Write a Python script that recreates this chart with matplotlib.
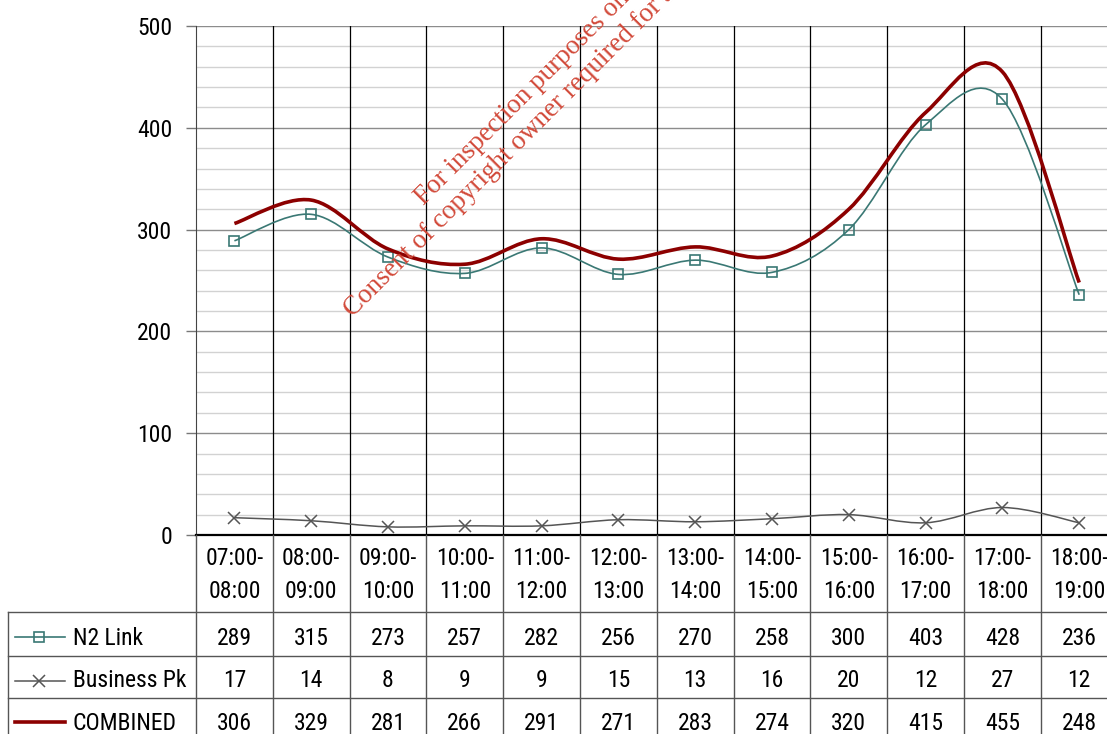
import numpy as np
import matplotlib
matplotlib.use('Agg')
import matplotlib.pyplot as plt
from matplotlib.path import Path
from matplotlib.patches import PathPatch
from matplotlib.ticker import MultipleLocator
from matplotlib.transforms import blended_transform_factory

period_start = ['07:00-', '08:00-', '09:00-', '10:00-', '11:00-', '12:00-',
                '13:00-', '14:00-', '15:00-', '16:00-', '17:00-', '18:00-']
period_end = ['08:00', '09:00', '10:00', '11:00', '12:00', '13:00',
              '14:00', '15:00', '16:00', '17:00', '18:00', '19:00']
n2_link = [289, 315, 273, 257, 282, 256, 270, 258, 300, 403, 428, 236]
business_pk = [17, 14, 8, 9, 9, 15, 13, 16, 20, 12, 27, 12]
combined = [306, 329, 281, 266, 291, 271, 283, 274, 320, 415, 455, 248]

FONT = ['Roboto Condensed', 'Liberation Sans', 'DejaVu Sans']
FS = 17
plt.rcParams['font.family'] = FONT

W, H = 1107, 734


def smooth_path(xs, ys):
    # excel-like smoothed line, bezier segments through the points
    p = np.column_stack([xs, ys]).astype(float)
    ext = np.vstack([p[0], p, p[-1]])
    verts = [p[0]]
    codes = [Path.MOVETO]
    for i in range(len(p) - 1):
        p0, p1, p2, p3 = ext[i], ext[i + 1], ext[i + 2], ext[i + 3]
        verts += [p1 + (p2 - p0) / 6, p2 - (p3 - p1) / 6, p2]
        codes += [Path.CURVE4] * 3
    return Path(verts, codes)


fig = plt.figure(figsize=(W / 100, H / 100), dpi=100)
ax = fig.add_axes([196 / W, (H - 535) / H, 921.6 / W, 509 / H])
x = np.arange(len(n2_link))
ax.set_xlim(-0.5, 11.5)
ax.set_ylim(0, 500)

ax.yaxis.set_major_locator(MultipleLocator(100))
ax.yaxis.set_minor_locator(MultipleLocator(20))
ax.grid(which='major', axis='y', color='#8c8c8c', lw=1)
ax.grid(which='minor', axis='y', color='#d2d2d2', lw=1)
ax.set_axisbelow(True)
ax.tick_params(axis='y', which='major', length=7, width=1, color='#777',
               pad=10, labelsize=FS)
ax.tick_params(axis='y', which='minor', length=0)
ax.tick_params(axis='x', length=0, labelbottom=False)
for s in ['top', 'right']:
    ax.spines[s].set_visible(False)
ax.spines['left'].set_color('#444')
ax.spines['bottom'].set_color('black')
ax.spines['bottom'].set_linewidth(1.6)
for b in np.arange(0.5, 11.5):
    ax.axvline(b, color='black', lw=0.9, zorder=1)

teal = '#3a7874'
grey = '#555555'
red = '#8c0000'

ax.add_patch(PathPatch(smooth_path(x, n2_link), fill=False, ec=teal, lw=1.2, zorder=3))
ax.plot(x, n2_link, ls='none', marker='s', ms=7.5, mfc='none', mec=teal, mew=1.2, zorder=4)
ax.add_patch(PathPatch(smooth_path(x, business_pk), fill=False, ec=grey, lw=1.1, zorder=3))
ax.plot(x, business_pk, ls='none', marker='x', ms=9, mec=grey, mew=1.1, zorder=4)
ax.add_patch(PathPatch(smooth_path(x, combined), fill=False, ec=red, lw=2.6, zorder=5))

# data table below the plot
ov = fig.add_axes([0, 0, 1, 1], zorder=3)
ov.set_xlim(0, W)
ov.set_ylim(H, 0)
ov.axis('off')
ov.patch.set_visible(False)
bt = blended_transform_factory(ax.transData, ov.transData)

for b in np.arange(-0.5, 11.5):
    ov.plot([b, b], [535, H], transform=bt, color='#555', lw=1, clip_on=False)
ov.plot([8, 8], [612, H], color='#555', lw=1)
for yy in [612, 656, 698]:
    ov.plot([8, W], [yy, yy], color='#555', lw=1)

for i in range(len(period_start)):
    ov.text(i, 565, period_start[i], transform=bt, ha='center', va='baseline', fontsize=FS)
    ov.text(i, 598, period_end[i], transform=bt, ha='center', va='baseline', fontsize=FS)

rows = [('N2 Link', n2_link, 645, 637, teal, 1.2, 's'),
        ('Business Pk', business_pk, 687, 681, grey, 1.1, 'x'),
        ('COMBINED', combined, 730, 722, red, 2.6, None)]
for name, vals, base, ly, col, lw, mk in rows:
    ov.plot([15, 65], [ly, ly], color=col, lw=lw)
    if mk == 's':
        ov.plot([39], [ly], marker='s', ms=7, mfc='none', mec=col, mew=1.2)
    elif mk == 'x':
        ov.plot([39], [ly], marker='x', ms=9, mec=col, mew=1.1)
    ov.text(73, base, name, ha='left', va='baseline', fontsize=FS)
    for i, v in enumerate(vals):
        ov.text(i, base, str(v), transform=bt, ha='center', va='baseline', fontsize=FS)

# watermark
wm = '#d24a3a'
ov.text(424, 206, 'For inspection purposes only.', rotation=45, rotation_mode='anchor',
        ha='left', va='baseline', color=wm, fontsize=19.5, family='Liberation Serif')
ov.text(353, 318, 'Consent of copyright owner required for any other use.', rotation=45,
        rotation_mode='anchor', ha='left', va='baseline', color=wm, fontsize=19.5,
        family='Liberation Serif')

fig.savefig('out.png', dpi=100)
